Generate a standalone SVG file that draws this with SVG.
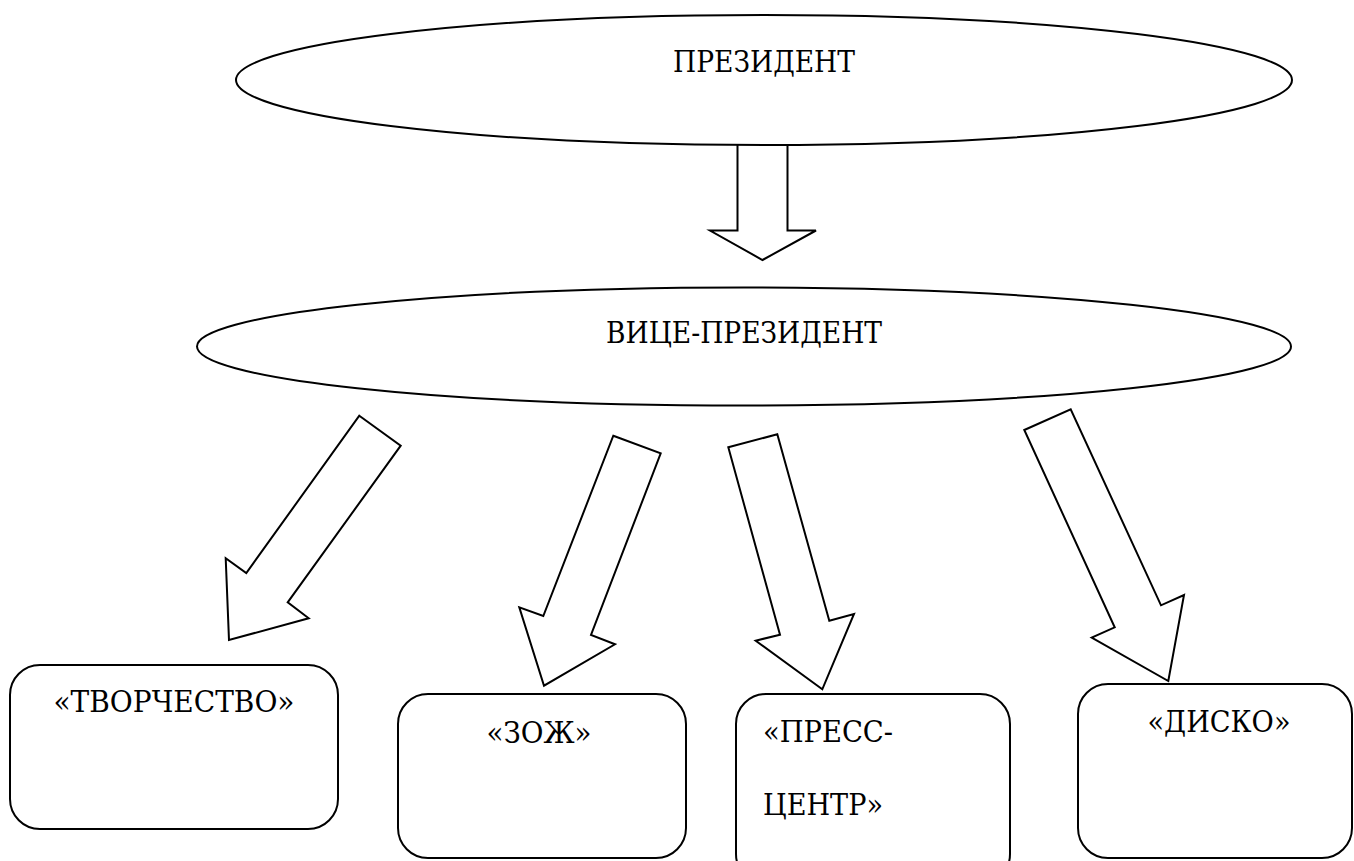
<svg xmlns="http://www.w3.org/2000/svg" width="1354" height="861" viewBox="0 0 1354 861">
<style>
.sh{fill:#fff;stroke:#000;stroke-width:2}
.ar{fill:#fff;stroke:#000;stroke-width:2;stroke-linejoin:miter}
.t{font-family:'DejaVu Serif Condensed','DejaVu Serif','Liberation Serif',serif;font-size:29px;fill:#000}
.c{text-anchor:middle}
</style>
<rect width="1354" height="861" fill="#fff"/>
<g id="connectors">
<polygon class="ar" points="737.5,144 787.5,144 787.5,230.5 816,230.5 762.5,260 710,230.5 737.5,230.5"/>
<polygon class="ar" points="359.3,415.7 400.7,445.7 287.7,602.3 308.7,618.3 229,640 225.7,558.3 246.3,573"/>
<polygon class="ar" points="613.3,435.7 660.7,453.3 591,635 615,644.3 544,685.7 519.3,607.3 543.3,616"/>
<polygon class="ar" points="728.3,447.3 777.3,434.3 829.3,620.7 854,614 822.3,689.3 755.7,640.7 780,634.7"/>
<polygon class="ar" points="1024.3,430 1070.7,409.3 1161,605.3 1184,595 1168.3,681 1091.7,637.7 1114.7,627.3"/>
</g>
<g id="president">
<ellipse class="sh" cx="764" cy="80" rx="528" ry="65"/>
<text class="t c" x="764" y="72" textLength="182" lengthAdjust="spacingAndGlyphs">ПРЕЗИДЕНТ</text>
</g>
<g id="vice">
<ellipse class="sh" cx="744" cy="346.5" rx="547" ry="59"/>
<text class="t c" x="744" y="343" textLength="276" lengthAdjust="spacingAndGlyphs">ВИЦЕ-ПРЕЗИДЕНТ</text>
</g>
<g id="tvorchestvo">
<rect class="sh" x="10" y="665" width="328" height="164" rx="30" ry="30"/>
<text class="t c" x="174" y="712" textLength="241" lengthAdjust="spacingAndGlyphs">«ТВОРЧЕСТВО»</text>
</g>
<g id="zozh">
<rect class="sh" x="398" y="694" width="288" height="164" rx="30" ry="30"/>
<text class="t c" x="539" y="743" textLength="105" lengthAdjust="spacingAndGlyphs">«ЗОЖ»</text>
</g>
<g id="press">
<rect class="sh" x="736" y="694" width="274" height="190" rx="30" ry="30"/>
<text class="t" x="763" y="742" textLength="130" lengthAdjust="spacingAndGlyphs">«ПРЕСС-</text>
<text class="t" x="763" y="815" textLength="120" lengthAdjust="spacingAndGlyphs">ЦЕНТР»</text>
</g>
<g id="disko">
<rect class="sh" x="1078" y="684" width="274" height="174" rx="30" ry="30"/>
<text class="t c" x="1219" y="732" textLength="143" lengthAdjust="spacingAndGlyphs">«ДИСКО»</text>
</g>
</svg>
